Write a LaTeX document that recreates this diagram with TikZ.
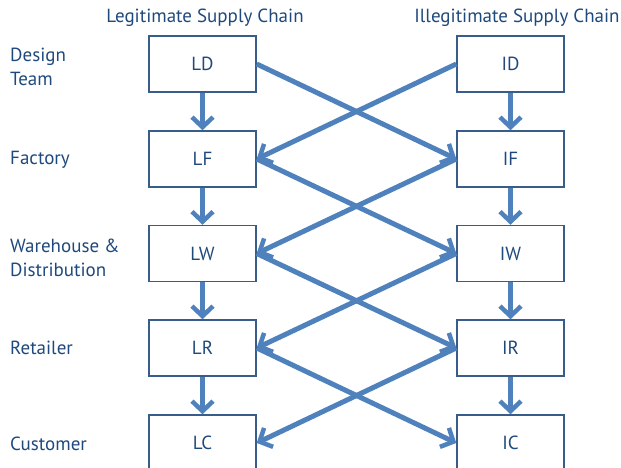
\documentclass[tikz,border=0pt]{standalone}
\usepackage{fontspec}
\setmainfont{PT Sans}
\usetikzlibrary{arrows.meta}
\definecolor{txtblue}{RGB}{31,73,125}
\definecolor{boxblue}{RGB}{56,93,138}
\definecolor{arrblue}{RGB}{79,129,189}
\tikzset{
  stage/.style={draw=boxblue, line width=1.5pt, minimum width=107pt, minimum height=56pt, inner sep=0pt, text=txtblue, font=\fontsize{19}{21}\selectfont},
  flow/.style={draw=arrblue, line width=5pt, -{Straight Barb[length=10pt,width=21pt,line width=4.5pt]}},
  rowlab/.style={anchor=west, align=left, text=txtblue, font=\fontsize{19}{24}\selectfont, inner sep=0pt},
  head/.style={text=txtblue, font=\fontsize{19}{21}\selectfont, inner sep=0pt}
}
\begin{document}
\begin{tikzpicture}[x=1pt,y=-1pt]
\useasboundingbox (0,0) rectangle (621,468);
\node[head] (hl) at (205,18) {Legitimate Supply Chain};
\node[head] (hi) at (517,18) {Illegitimate Supply Chain};
\foreach \n/\t/\y in {D/Design\\Team/67, F/Factory/160, W/Warehouse \&\\Distribution/258, R/Retailer/348, C/Customer/444}{
  \node[rowlab] (lab\n) at (10,\y) {\t};
}
\node[stage] (LD) at (202.5,64) {LD};
\node[stage] (LF) at (202.5,159) {LF};
\node[stage] (LW) at (202.5,253.5) {LW};
\node[stage] (LR) at (202.5,348) {LR};
\node[stage] (LC) at (202.5,443) {LC};
\node[stage] (ID) at (510.5,64) {ID};
\node[stage] (IF) at (510.5,159) {IF};
\node[stage] (IW) at (510.5,253.5) {IW};
\node[stage] (IR) at (510.5,348) {IR};
\node[stage] (IC) at (510.5,443) {IC};
\foreach \a/\b in {LD/LF, LF/LW, LW/LR, LR/LC, ID/IF, IF/IW, IW/IR, IR/IC}{
  \draw[flow] (\a.south) -- (\b.north);
}
\foreach \a/\b in {LD/IF, LF/IW, LW/IR, LR/IC}{
  \draw[flow] (\a.east) -- (\b.west);
}
\foreach \a/\b in {ID/LF, IF/LW, IW/LR, IR/LC}{
  \draw[flow] (\a.west) -- (\b.east);
}
\end{tikzpicture}
\end{document}
